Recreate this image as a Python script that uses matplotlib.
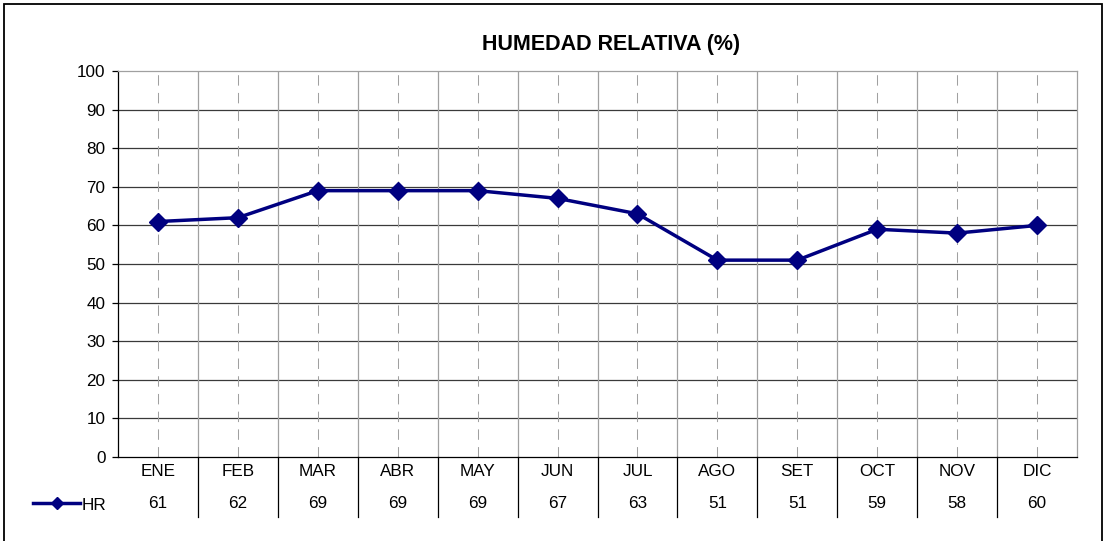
import matplotlib
matplotlib.use("Agg")
import matplotlib.pyplot as plt
from matplotlib.patches import Rectangle
from matplotlib.lines import Line2D

months = ["ENE", "FEB", "MAR", "ABR", "MAY", "JUN", "JUL", "AGO", "SET", "OCT", "NOV", "DIC"]
hr = [61, 62, 69, 69, 69, 67, 63, 51, 51, 59, 58, 60]
yticks = [0, 10, 20, 30, 40, 50, 60, 70, 80, 90, 100]
title = "HUMEDAD RELATIVA (%)"
series_name = "HR"

plt.rcParams['font.family'] = ['Liberation Sans', 'DejaVu Sans']

W, H = 1106, 541
fig = plt.figure(figsize=(W / 100, H / 100), dpi=100)

def px(x0, y0, x1, y1):
    return [x0 / W, 1 - y1 / H, (x1 - x0) / W, (y1 - y0) / H]

FS = 12.3

# outer frame
fig.patches.append(Rectangle((4 / W, -0.1), (1102 - 4) / W, 1 - 4 / H + 0.1,
                             transform=fig.transFigure, fill=False,
                             edgecolor='black', linewidth=1.3))

ax = fig.add_axes(px(118, 71, 1077, 457))
n = len(months)
xs = list(range(n))
ax.set_xlim(-0.5, n - 0.5)
ax.set_ylim(0, 100)

# gridlines
for y in yticks[1:-1]:
    ax.axhline(y, color='#3a3a3a', lw=0.9, zorder=1)
for k in range(1, n):
    ax.axvline(k - 0.5, color='#a0a0a0', lw=0.9, zorder=1)
for x in xs:
    ax.axvline(x, color='#a0a0a0', lw=0.75, ls=(0, (10, 7)), zorder=1)

ax.plot(xs, hr, color='#000080', lw=2.5, marker='D', ms=9,
        markeredgecolor='#000080', zorder=3, clip_on=False)

for side in ['top', 'right']:
    ax.spines[side].set_color('#a0a0a0')
    ax.spines[side].set_linewidth(0.9)
for side in ['left', 'bottom']:
    ax.spines[side].set_color('black')
    ax.spines[side].set_linewidth(0.9)

ax.set_yticks(yticks)
ax.set_yticklabels([str(v) for v in yticks], fontsize=FS)
ax.tick_params(axis='y', length=4, width=0.9, pad=5)
ax.set_xticks([])

# data table
tr = ax.get_xaxis_transform()
ah = 457 - 71
def ay(ypx):
    return (457 - ypx) / ah
for x, m, v in zip(xs, months, hr):
    ax.text(x, ay(472), m, transform=tr, ha='center', va='center', fontsize=FS)
    ax.text(x, ay(503), str(v), transform=tr, ha='center', va='center', fontsize=FS)
for k in range(1, n):
    ax.add_line(Line2D([k - 0.5, k - 0.5], [0, ay(517)], transform=tr,
                       color='black', lw=0.9, clip_on=False))

# legend key
fig.add_artist(Line2D([33 / W, 80 / W], [1 - 503 / H, 1 - 503 / H],
                      transform=fig.transFigure, color='#000080', lw=2.5))
fig.add_artist(Line2D([57 / W], [1 - 503 / H], transform=fig.transFigure,
                      color='#000080', marker='D', ms=6.5, lw=0))
fig.text(82 / W, 1 - 505 / H, series_name, ha='left', va='center', fontsize=FS)

fig.text(611 / W, 1 - 45 / H, title, ha='center', va='center',
         fontsize=15.5, fontweight='bold')

fig.savefig("out.png", dpi=100)
